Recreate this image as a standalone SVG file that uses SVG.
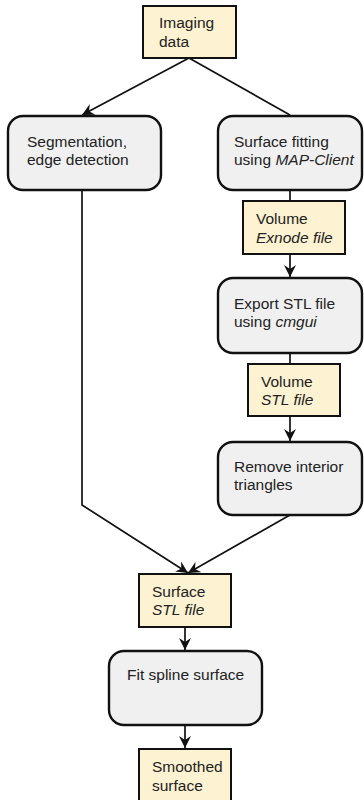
<svg xmlns="http://www.w3.org/2000/svg" width="364" height="800" viewBox="0 0 364 800">
  <defs>
    <style>
      .data { fill: #fdf2d2; stroke: #111; stroke-width: 2; }
      .proc { fill: #f0f0f0; stroke: #111; stroke-width: 2.4; }
      .lbl { font-family: "Liberation Sans", Arial, sans-serif; font-size: 15.5px; fill: #222; }
      .it { font-style: italic; }
      .edge { fill: none; stroke: #111; stroke-width: 1.7; }
    </style>
    <marker id="arrow" viewBox="0 0 12 12" refX="12" refY="6" markerWidth="12" markerHeight="12" markerUnits="userSpaceOnUse" orient="auto">
      <path d="M0,0 L12,6 L0,12 L4,6 Z" fill="#111"/>
    </marker>
  </defs>

  <rect width="364" height="800" fill="#fff"/>

  <!-- connectors -->
  <g id="connectors">
    <path class="edge" d="M189,58 L82,115" marker-end="url(#arrow)"/>
    <path class="edge" d="M189,58 L290,115"/>
    <path class="edge" d="M290,190 L290,201"/>
    <path class="edge" d="M290,254 L290,277" marker-end="url(#arrow)"/>
    <path class="edge" d="M290,353 L290,364"/>
    <path class="edge" d="M290,416 L290,441" marker-end="url(#arrow)"/>
    <path class="edge" d="M82,190 L82,505 L188,573" marker-end="url(#arrow)"/>
    <path class="edge" d="M290,515 L188,573" marker-end="url(#arrow)"/>
    <path class="edge" d="M185,627 L185,650" marker-end="url(#arrow)"/>
    <path class="edge" d="M185,725 L185,748" marker-end="url(#arrow)"/>
  </g>

  <g id="imaging-data">
    <rect class="data" x="143" y="6" width="93" height="52"/>
    <text class="lbl" x="159" y="28">Imaging</text>
    <text class="lbl" x="159" y="47">data</text>
  </g>

  <g id="segmentation">
    <rect class="proc" x="8" y="116" width="153" height="74" rx="15"/>
    <text class="lbl" x="27" y="147">Segmentation,</text>
    <text class="lbl" x="27" y="165">edge detection</text>
  </g>

  <g id="surface-fitting">
    <rect class="proc" x="218" y="116" width="144" height="74" rx="15"/>
    <text class="lbl" x="234" y="147">Surface fitting</text>
    <text class="lbl" x="234" y="165">using <tspan class="it">MAP-Client</tspan></text>
  </g>

  <g id="volume-exnode">
    <rect class="data" x="243" y="201" width="102" height="53"/>
    <text class="lbl" x="256" y="224">Volume</text>
    <text class="lbl it" x="256" y="243">Exnode file</text>
  </g>

  <g id="export-stl">
    <rect class="proc" x="218" y="278" width="144" height="75" rx="15"/>
    <text class="lbl" x="234" y="309">Export STL file</text>
    <text class="lbl" x="234" y="327">using <tspan class="it">cmgui</tspan></text>
  </g>

  <g id="volume-stl">
    <rect class="data" x="248" y="364" width="92" height="52"/>
    <text class="lbl" x="261" y="387">Volume</text>
    <text class="lbl it" x="261" y="405">STL file</text>
  </g>

  <g id="remove-triangles">
    <rect class="proc" x="218" y="442" width="144" height="73" rx="15"/>
    <text class="lbl" x="234" y="472">Remove interior</text>
    <text class="lbl" x="234" y="490">triangles</text>
  </g>

  <g id="surface-stl">
    <rect class="data" x="139" y="574" width="92" height="53"/>
    <text class="lbl" x="152" y="597">Surface</text>
    <text class="lbl it" x="152" y="615">STL file</text>
  </g>

  <g id="fit-spline">
    <rect class="proc" x="109" y="651" width="153" height="74" rx="15"/>
    <text class="lbl" x="127" y="680">Fit spline surface</text>
  </g>

  <g id="smoothed-surface">
    <rect class="data" x="139" y="749" width="92" height="60"/>
    <text class="lbl" x="152" y="772">Smoothed</text>
    <text class="lbl" x="152" y="791">surface</text>
  </g>
</svg>
